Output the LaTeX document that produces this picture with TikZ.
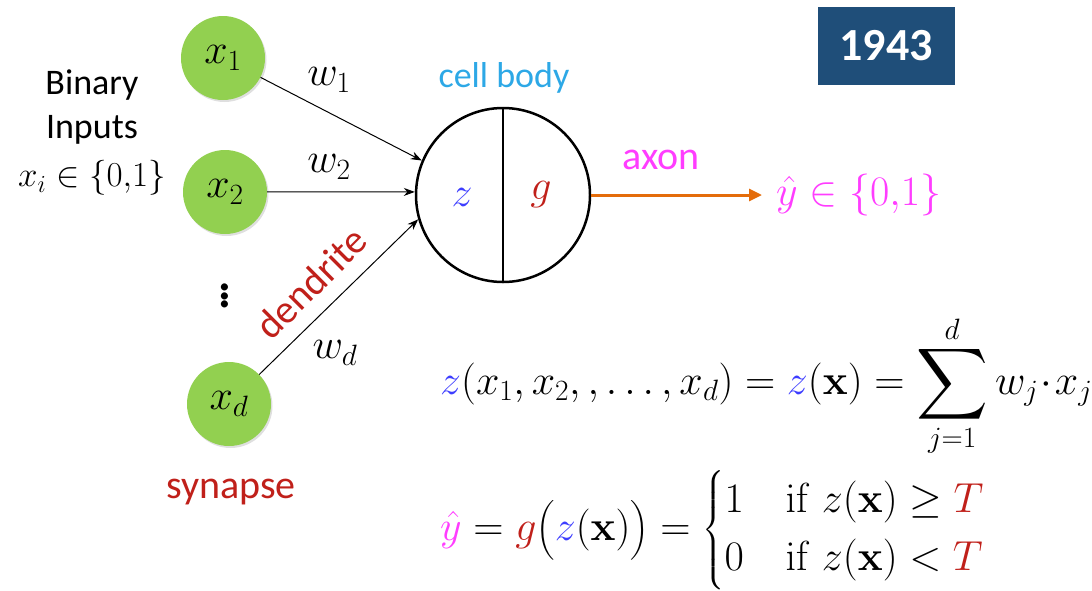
\RequirePackage{fix-cm}
\documentclass[tikz,border=0pt]{standalone}
\usepackage{amsmath}
\usepackage{graphicx}
\usepackage[no-math]{fontspec}
\setmainfont{Carlito}
\usetikzlibrary{arrows.meta,shadows}
\definecolor{ngreen}{HTML}{92D050}
\definecolor{zblue}{HTML}{3D3DFF}
\definecolor{gred}{HTML}{C0201A}
\definecolor{mag}{HTML}{FF3DFF}
\definecolor{cellblue}{HTML}{2DA8E6}
\definecolor{axorange}{HTML}{E46C0A}
\definecolor{boxblue}{HTML}{1F4E79}
\newcommand{\bigsum}{\mathop{\vcenter{\hbox{\scalebox{2.0}{$\displaystyle\sum$}}}}\limits}
\begin{document}
\begin{tikzpicture}[x=1pt,y=-1pt,
  lbl/.style={font=\fontsize{36}{40}\selectfont, inner sep=0pt},
  lblb/.style={font=\fontsize{40}{44}\selectfont, inner sep=0pt},
  mth/.style={font=\fontsize{35}{40}\selectfont, inner sep=0pt},
  big/.style={font=\fontsize{42}{48}\selectfont, inner sep=0pt},
  inp/.style={circle, fill=ngreen, minimum size=84pt, inner sep=0pt,
    font=\fontsize{42}{48}\selectfont,
    drop shadow={opacity=0.25, shadow xshift=1.5pt, shadow yshift=-2pt}},
  wire/.style={line width=1pt, -{Stealth[length=11pt,width=8pt]}}]
\useasboundingbox (0,0) rectangle (1092,590);
% inputs
\node[inp] (x1) at (223,58) {$x_1$};
\node[inp] (x2) at (225,192) {$x_2$};
\node[inp] (xd) at (229,404) {$x_d$};
\node[big, scale=1.4] (dots) at (225,292) {$\vdots$};
\node[lbl] (bin) at (92,85) {Binary};
\node[lbl] (inps) at (92,130) {Inputs};
\node[mth] (xi) at (92,178) {$x_i\in\{0{,}1\}$};
\node[lblb, text=gred] (syn) at (231,492) {synapse};
% cell body
\node[circle, draw, line width=2.5pt, minimum size=174pt, inner sep=0pt] (cell) at (503,195) {};
\draw[line width=2.5pt] (cell.north) -- (cell.south);
\node[lbl, text=cellblue] (cb) at (504,78) {cell body};
\node[big, text=zblue] (z) at (462,197) {$z$};
\node[big, text=gred] (g) at (541,195) {$g$};
% wires
\draw[wire] (x1) -- (cell.157);
\draw[wire] (x2) -- (cell.178.5);
\draw[wire] (xd) -- (cell.196);
\node[big] (w1) at (329,80) {$w_1$};
\node[big] (w2) at (329,167) {$w_2$};
\node[big] (wd) at (335,353) {$w_d$};
\node[lblb, text=gred, rotate=45] (dend) at (311,283) {dendrite};
% axon
\coordinate (yend) at (762,195);
\draw[line width=3pt, axorange, -{Triangle[length=13pt,width=12pt]}] (cell.east) -- (yend);
\node[lblb, text=mag] (ax) at (661,160) {axon};
\node[big, text=mag, anchor=west] (yhat) at (776,195) {$\hat{y}\in\{0{,}1\}$};
% year box
\node[fill=boxblue, text=white, minimum width=137pt, minimum height=78pt, inner sep=0pt,
  font=\fontsize{46}{50}\selectfont\bfseries] (year) at (886,46) {1943};
% equations
\node[big, anchor=west] (eq1) at (440,386) {$\displaystyle {\color{zblue}z}(x_1,x_2,,\ldots,x_d)={\color{zblue}z}(\mathbf{x})=\bigsum_{j=1}^{d} w_j\!\cdot\! x_j$};
\node[big, anchor=west] (eq2) at (440,530) {$\displaystyle {\color{mag}\hat{y}}={\color{gred}g}\bigl({\color{zblue}z}(\mathbf{x})\bigr)=\begin{cases}1 & \mathrm{if}\; z(\mathbf{x})\geq {\color{gred}T}\\ 0 & \mathrm{if}\; z(\mathbf{x})< {\color{gred}T}\end{cases}$};
\end{tikzpicture}
\end{document}
